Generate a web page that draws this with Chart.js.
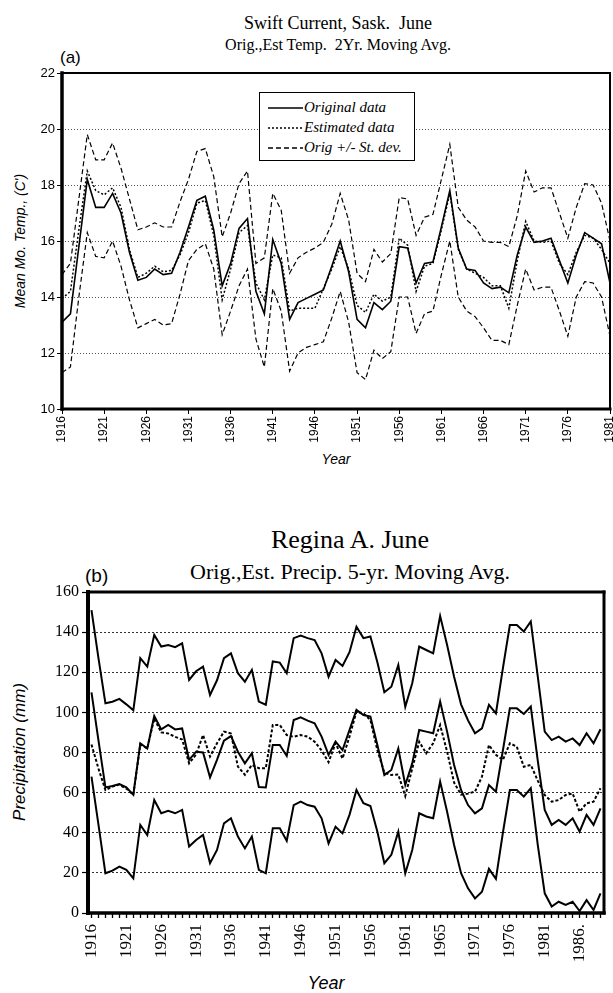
<!DOCTYPE html>
<html><head><meta charset="utf-8">
<script src="https://cdn.jsdelivr.net/npm/chart.js@4.4.1/dist/chart.umd.min.js"></script>
<style>
body{margin:0;width:613px;height:993px;background:#fff;position:relative;overflow:hidden;}
.t{position:absolute;white-space:nowrap;color:#000;line-height:1;}
canvas{position:absolute;left:0;}
#legA{position:absolute;left:259px;top:92px;width:154px;height:67px;border:1.5px solid #000;background:#fff;}
.li{position:absolute;left:8px;height:20px;font:italic 15px 'Liberation Serif',serif;white-space:nowrap;}
.li svg{position:absolute;left:0;top:6px;}
.li span{position:absolute;left:36px;top:0;line-height:15px;}
</style></head><body>

<div class="t" style="left:338px;top:13px;transform:translateX(-50%);font:18px 'Liberation Serif',serif;">Swift Current, Sask.&nbsp; June</div>
<div class="t" style="left:338px;top:36px;transform:translateX(-50%);font:16px 'Liberation Serif',serif;">Orig.,Est Temp.&nbsp; 2Yr. Moving Avg.</div>
<div class="t" style="left:60px;top:48px;font:17px 'Liberation Sans',sans-serif;">(a)</div>
<div class="t" style="left:20px;top:241px;transform:translate(-50%,-50%) rotate(-90deg);font:italic 14px 'Liberation Sans',sans-serif;">Mean Mo. Temp., (C')</div>
<div class="t" style="left:336px;top:459px;transform:translate(-50%,-50%);font:italic 14px 'Liberation Sans',sans-serif;">Year</div>

<div class="t" style="left:350px;top:525px;transform:translateX(-50%);font:26px 'Liberation Serif',serif;">Regina A. June</div>
<div class="t" style="left:350px;top:559px;transform:translateX(-50%);font:22px 'Liberation Serif',serif;">Orig.,Est. Precip. 5-yr. Moving Avg.</div>
<div class="t" style="left:85px;top:565px;font:19px 'Liberation Sans',sans-serif;">(b)</div>
<div class="t" style="left:20px;top:752px;transform:translate(-50%,-50%) rotate(-90deg);font:italic 17px 'Liberation Sans',sans-serif;">Precipitation (mm)</div>
<div class="t" style="left:326px;top:983px;transform:translate(-50%,-50%);font:italic 18px 'Liberation Sans',sans-serif;">Year</div>

<canvas id="ca" width="613" height="470" style="top:0"></canvas>
<canvas id="cb" width="613" height="513" style="top:480px"></canvas>
<div id="legA"></div>

<script>
// ---------- Panel (a) data ----------
const yearsA = [1916,1917,1918,1919,1920,1921,1922,1923,1924,1925,1926,1927,1928,1929,1930,1931,1932,1933,1934,1935,1936,1937,1938,1939,1940,1941,1942,1943,1944,1945,1946,1947,1948,1949,1950,1951,1952,1953,1954,1955,1956,1957,1958,1959,1960,1961,1962,1963,1964,1965,1966,1967,1968,1969,1970,1971,1972,1973,1974,1975,1976,1977,1978,1979,1980,1981];
const origA = [13.1,13.4,15.8,18.2,17.2,17.2,17.7,17.0,15.6,14.6,14.7,15.0,14.8,14.85,15.6,16.5,17.45,17.6,16.4,14.4,15.2,16.45,16.8,14.2,13.4,16.05,15.2,13.2,13.8,13.95,14.1,14.25,15.1,16.0,14.9,13.2,12.9,13.8,13.55,13.85,15.8,15.75,14.5,15.2,15.25,16.5,17.8,15.75,15.0,14.95,14.5,14.3,14.35,14.15,15.5,16.5,15.95,16.0,16.1,15.3,14.5,15.5,16.3,16.1,15.9,14.5];
const estA = [13.95,14.2,16.4,18.5,17.8,17.65,17.9,17.2,15.7,14.7,14.85,15.1,14.9,14.95,15.5,16.3,17.35,17.45,16.2,13.9,15.0,16.3,16.55,14.5,13.9,15.5,15.4,13.5,13.6,13.6,13.6,14.3,15.0,15.8,15.0,13.7,13.45,14.1,13.85,14.0,16.1,15.85,14.2,15.1,15.2,16.4,17.7,15.7,15.0,14.85,14.7,14.4,14.4,13.6,15.3,16.7,16.0,15.95,16.0,15.2,14.8,15.6,16.2,16.1,15.7,15.2];
const upA = [14.8,15.2,17.5,19.8,18.9,18.9,19.5,18.6,17.5,16.4,16.5,16.65,16.5,16.5,17.4,18.2,19.2,19.3,18.3,16.15,17.0,18.05,18.5,15.2,15.4,17.7,17.1,14.85,15.4,15.6,15.75,15.95,16.6,17.7,16.75,14.85,14.55,15.7,15.25,15.55,17.55,17.5,16.2,16.85,16.95,18.2,19.45,17.2,16.75,16.5,16.0,15.95,15.95,15.8,16.9,18.5,17.75,17.9,17.9,17.0,16.1,17.2,18.05,18.0,17.35,16.0];
const lowA = [11.3,11.5,14.0,16.3,15.45,15.4,16.0,15.1,13.9,12.9,13.05,13.2,13.0,13.05,14.1,15.3,15.7,15.9,15.0,12.65,13.5,14.4,15.0,12.5,11.5,14.3,13.5,11.35,12.0,12.2,12.3,12.4,13.25,14.2,13.1,11.3,11.05,12.1,11.8,12.05,14.0,14.0,12.7,13.4,13.5,14.8,16.0,14.0,13.5,13.3,12.9,12.45,12.45,12.3,13.7,15.0,14.25,14.35,14.35,13.5,12.6,14.0,14.55,14.5,14.0,12.6];
const tickYearsA = [1916,1921,1926,1931,1936,1941,1946,1951,1956,1961,1966,1971,1976,1981];
const yTicksA = [10,12,14,16,18,20,22];
const legendA = ['Original data','Estimated data','Orig +/- St. dev.'];

// ---------- Panel (b) data ----------
const yearsB = [1916,1917,1918,1919,1920,1921,1922,1923,1924,1925,1926,1927,1928,1929,1930,1931,1932,1933,1934,1935,1936,1937,1938,1939,1940,1941,1942,1943,1944,1945,1946,1947,1948,1949,1950,1951,1952,1953,1954,1955,1956,1957,1958,1959,1960,1961,1962,1963,1964,1965,1966,1967,1968,1969,1970,1971,1972,1973,1974,1975,1976,1977,1978,1979,1980,1981,1982,1983,1984,1985,1986,1987,1988,1989];
const topB = [151,127,104.5,105.3,106.7,104,101,127,122.8,138.6,132.8,133.6,132.5,134.4,116.2,120.5,122.8,108.7,116,127,129.4,119.5,115.3,121.2,105.4,103.8,125.4,124.8,119.5,137,138.3,137,136,129.4,117.8,126.1,123.1,130,142.7,137,137.8,125,110,112.8,123.6,102.8,114.5,132.8,131.1,129.4,148,133.6,117.8,104,96,89.6,92,103.7,99.5,122,143.6,143.6,140.3,145.3,118,90.4,86.2,87.9,85.4,87,83.7,89.6,84.6,91.6];
const midB = [110,86,62.6,63.3,64.3,62.6,58.9,84.6,82,98.2,91.5,93.7,91.5,92,76.3,80.4,80,67.6,76.3,85.9,88.2,80.4,74.6,79.6,62.8,62.6,83.8,83.8,78.3,96.2,97.5,95.9,94.6,87.9,78.8,85.4,81.2,91.2,101.2,98.7,97.9,83.7,68.8,71.3,82,63.8,74.6,91.2,90.4,89.6,105.4,90.4,73.8,61.3,53.8,49.7,52.2,63.8,60.5,81,102,102,99.2,102.9,76,51.4,43.9,46.4,43.9,47.2,40.6,48.9,43.9,52.2];
const lowB = [68,44,19.8,21.1,23.1,21.5,17.3,43.9,38.9,56.3,49.7,50.9,49.7,51.4,33.1,36.4,38.9,24.8,31.4,44.7,47.2,38.1,32.2,38.1,21.5,19.8,42.3,42.3,36,53.8,55.5,53.8,53,47.2,34.7,43,39.7,48.9,61.3,54.7,53.3,40.5,24.8,29,40.5,19.8,31.4,49.7,48.1,47.2,65.5,50.5,33.9,19.8,12.3,7.3,10.6,22,17,40,61.3,61.3,58,62.2,34,9.8,3.2,5.6,4,5.6,1,6.4,1.5,9.8];
const estB = [84,72,61.3,63,64,62,59,84,82,97,90,89.5,87.8,86.5,74.6,79,88.7,78,84.6,90.4,89.5,73,68.9,73.8,72.2,72.2,93.7,93.7,88.7,87.8,88.7,87.9,85.4,81,75.2,84.6,77,87.9,100.4,99.5,96.2,81.2,70,68.8,69,58.3,72,85.4,79.6,84.6,93.7,80.4,65,59,59.5,60.5,68,83.7,78.8,76.3,84.6,82.9,72.9,73.8,66,58.8,55.5,56.3,58.8,59.6,50.5,54.7,55.5,62.2];
const labelYearsB = [1916,1921,1926,1931,1936,1941,1946,1951,1956,1961,1966,1971,1976,1981,1986];
const tickLabelsB = ['1916','1921','1926','1931','1936','1941','1946','1951','1956','1961','1965','1971','1976','1981','1986.'];
const yTicksB = [0,20,40,60,80,100,120,140,160];

// ---------- helpers ----------
const pts = (xs, ys) => xs.map((x, i) => ({x: x, y: ys[i]}));
const frame = {
  id: 'frame',
  afterDraw(chart, args, o) {
    const {ctx, chartArea: a} = chart;
    ctx.save();
    ctx.strokeStyle = '#000';
    ctx.lineCap = 'square';
    const ln = (w, x1, y1, x2, y2) => { ctx.lineWidth = w; ctx.beginPath(); ctx.moveTo(x1, y1); ctx.lineTo(x2, y2); ctx.stroke(); };
    ln(o.top, a.left, a.top, a.right, a.top);
    ln(o.right, a.right, a.top, a.right, a.bottom);
    ln(o.bottom, a.left, a.bottom, a.right, a.bottom);
    ln(o.left, a.left, a.top, a.left, a.bottom);
    ctx.restore();
  }
};
const lineDs = (label, data, w, dash) => ({label, data, borderColor: '#000', borderWidth: w, borderDash: dash, pointRadius: 0, tension: 0, fill: false});

// ---------- Chart (a) ----------
new Chart(document.getElementById('ca'), {
  type: 'line',
  data: {datasets: [
    lineDs(legendA[0], pts(yearsA, origA), 1.6, []),
    lineDs(legendA[1], pts(yearsA, estA), 1.5, [2, 2]),
    lineDs(legendA[2], pts(yearsA, upA), 1.2, [5, 3]),
    lineDs('Orig - St. dev.', pts(yearsA, lowA), 1.2, [5, 3])
  ]},
  options: {
    responsive: false, animation: false,
    layout: {padding: {left: 0, right: 3, top: 73, bottom: 0}},
    plugins: {legend: {display: false}, tooltip: {enabled: false}, frame: {top: 2, right: 2, bottom: 3, left: 3.5}},
    scales: {
      x: {
        type: 'linear', min: yearsA[0], max: yearsA[yearsA.length - 1],
        afterBuildTicks: s => { s.ticks = tickYearsA.map(v => ({value: v})); },
        afterFit: s => { s.height = 61; s.paddingLeft = 0; s.paddingRight = 0; },
        ticks: {autoSkip: false, minRotation: 90, maxRotation: 90, padding: 2, color: '#000',
                font: {family: 'Liberation Sans', size: 12}, callback: v => String(v)},
        grid: {drawOnChartArea: false, drawTicks: true, tickLength: 5, tickColor: '#000', tickWidth: 1},
        border: {display: false}
      },
      y: {
        type: 'linear', min: 10, max: 22,
        afterBuildTicks: s => { s.ticks = yTicksA.map(v => ({value: v})); },
        afterFit: s => { s.width = 62; s.paddingTop = 0; s.paddingBottom = 0; },
        ticks: {padding: 2, color: '#000', font: {family: 'Liberation Sans', size: 13}, callback: v => String(v)},
        grid: {color: '#555', lineWidth: 1, tickLength: 5, tickColor: '#000', tickWidth: 1},
        border: {display: false, dash: [1, 2]}
      }
    }
  },
  plugins: [frame]
});

// legend (a)
const legDash = [[], [2, 2], [5, 3]];
const leg = document.getElementById('legA');
legendA.forEach((txt, i) => {
  const d = document.createElement('div');
  d.className = 'li';
  d.style.top = (7 + i * 20) + 'px';
  d.innerHTML = '<svg width="36" height="4"><line x1="0" y1="2" x2="35" y2="2" stroke="#000" stroke-width="1.3" stroke-dasharray="' + legDash[i].join(',') + '"/></svg><span>' + txt + '</span>';
  leg.appendChild(d);
});

// ---------- Chart (b) ----------
new Chart(document.getElementById('cb'), {
  type: 'line',
  data: {datasets: [
    lineDs('Orig + St. dev.', pts(yearsB, topB), 2, []),
    lineDs('Original data', pts(yearsB, midB), 2, []),
    lineDs('Estimated data', pts(yearsB, estB), 2, [3, 2]),
    lineDs('Orig - St. dev.', pts(yearsB, lowB), 2, [])
  ]},
  options: {
    responsive: false, animation: false,
    layout: {padding: {left: 0, right: 9, top: 112, bottom: 0}},
    plugins: {legend: {display: false}, tooltip: {enabled: false}, frame: {top: 3, right: 3, bottom: 3.5, left: 4}},
    scales: {
      x: {
        type: 'linear', min: yearsB[0] - 0.5, max: yearsB[yearsB.length - 1] + 0.5,
        afterBuildTicks: s => { s.ticks = yearsB.map(v => ({value: v})); },
        afterFit: s => { s.height = 80; s.paddingLeft = 0; s.paddingRight = 0; },
        ticks: {autoSkip: false, minRotation: 90, maxRotation: 90, padding: 6, color: '#000',
                font: {family: 'Liberation Serif', size: 17},
                callback: v => { const i = labelYearsB.indexOf(v); return i >= 0 ? tickLabelsB[i] : ''; }},
        grid: {drawOnChartArea: false, drawTicks: true, tickLength: 5, tickColor: '#000', tickWidth: 1.3},
        border: {display: false}
      },
      y: {
        type: 'linear', min: 0, max: 160,
        afterBuildTicks: s => { s.ticks = yTicksB.map(v => ({value: v})); },
        afterFit: s => { s.width = 88; s.paddingTop = 0; s.paddingBottom = 0; },
        ticks: {padding: 3, color: '#000', font: {family: 'Liberation Serif', size: 16}, callback: v => String(v)},
        grid: {color: '#333', lineWidth: 1, tickLength: 6, tickColor: '#000', tickWidth: 1.2},
        border: {display: false, dash: [2, 2]}
      }
    }
  },
  plugins: [frame]
});
</script>
</body></html>
